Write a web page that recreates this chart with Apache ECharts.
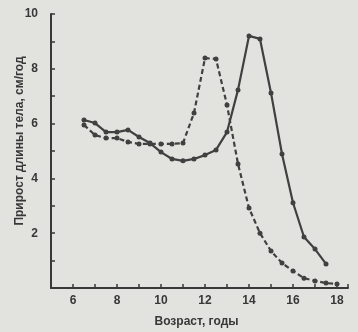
<!DOCTYPE html>
<html><head><meta charset="utf-8">
<script src="https://cdn.jsdelivr.net/npm/echarts@6/dist/echarts.min.js"></script>
<style>html,body{margin:0;padding:0;background:#e2e2df;}#c{width:358px;height:332px;}</style>
</head><body><div id="c"></div>
<script>
const agesGirls = [6.5,7,7.5,8,8.5,9,9.5,10,10.5,11,11.5,12,12.5,13,13.5,14,14.5,15,15.5,16,16.5,17,17.5,18];
const girls = [5.95,5.58,5.47,5.47,5.33,5.26,5.26,5.26,5.26,5.29,6.39,8.39,8.36,6.68,4.53,2.92,2.0,1.35,0.91,0.62,0.36,0.26,0.18,0.15];
const agesBoys = [6.5,7,7.5,8,8.5,9,9.5,10,10.5,11,11.5,12,12.5,13,13.5,14,14.5,15,15.5,16,16.5,17,17.5];
const boys = [6.13,6.02,5.69,5.69,5.77,5.51,5.29,4.96,4.71,4.64,4.71,4.85,5.04,5.69,7.23,9.2,9.09,7.12,4.89,3.11,1.86,1.42,0.88];
const xLabels = [6,8,10,12,14,16,18];
const yLabels = [2,4,6,8,10];
const xTitle = 'Возраст, годы';
const yTitle = 'Прирост длины тела, см/год';

const ink = '#383838';
const chart = echarts.init(document.getElementById('c'), null, {renderer:'canvas'});
chart.setOption({
  backgroundColor: '#e2e2df',
  animation: false,
  grid: {left: 51, right: 10, top: 14, bottom: 44, containLabel: false, outerBoundsMode: 'none'},
  xAxis: {
    type: 'value', min: 5, max: 18.5, interval: 1,
    axisLine: {show: true, lineStyle: {color: ink, width: 2}},
    axisTick: {show: true, inside: true, length: 4, lineStyle: {color: ink, width: 1.5}},
    splitLine: {show: false},
    axisLabel: {
      color: ink, fontFamily: 'Liberation Sans', fontWeight: 'bold', fontSize: 12, margin: 7,
      formatter: v => xLabels.includes(v) ? String(v) : ''
    },
    name: xTitle, nameLocation: 'middle', nameGap: 28, nameMoveOverlap: false,
    nameTextStyle: {color: ink, fontFamily: 'Liberation Sans', fontWeight: 'bold', fontSize: 12, padding: [0, 6, 0, 0]}
  },
  yAxis: {
    type: 'value', min: 0, max: 10, interval: 1,
    axisLine: {show: true, lineStyle: {color: ink, width: 2}},
    axisTick: {show: true, inside: true, length: 4, lineStyle: {color: ink, width: 1.5}},
    splitLine: {show: false},
    axisLabel: {
      color: ink, fontFamily: 'Liberation Sans', fontWeight: 'bold', fontSize: 12, margin: 13,
      formatter: v => yLabels.includes(v) ? String(v) : ''
    },
    name: yTitle, nameLocation: 'middle', nameGap: 25, nameMoveOverlap: false,
    nameTextStyle: {color: ink, fontFamily: 'Liberation Sans', fontWeight: 'bold', fontSize: 12, padding: [0, 0, 0, 20]}
  },
  series: [
    {
      type: 'line', data: agesGirls.map((a,i)=>[a, girls[i]]),
      symbol: 'circle', symbolSize: 5, showSymbol: true,
      lineStyle: {color: '#404040', width: 2.2, type: [5,3]},
      itemStyle: {color: '#404040'}
    },
    {
      type: 'line', data: agesBoys.map((a,i)=>[a, boys[i]]),
      symbol: 'circle', symbolSize: 5, showSymbol: true,
      lineStyle: {color: '#404040', width: 2.2},
      itemStyle: {color: '#404040'}
    }
  ]
});
</script></body></html>
